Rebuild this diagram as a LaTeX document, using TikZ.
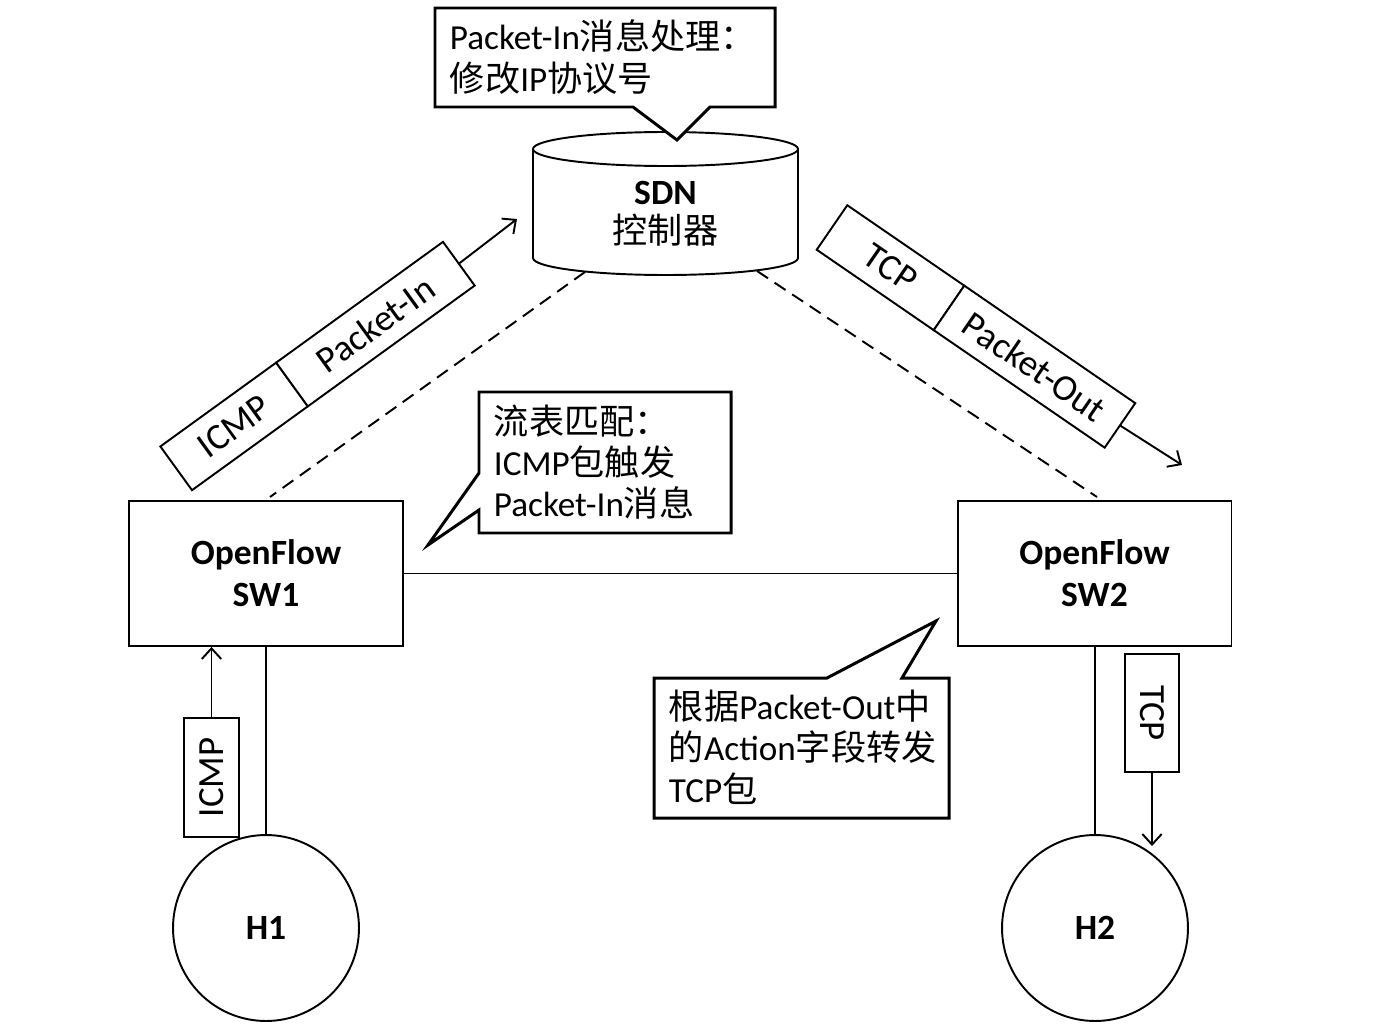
\documentclass[tikz,border=0pt]{standalone}
\usepackage{fontspec}
\setmainfont{Carlito}
\newfontfamily\cjk{Noto Sans CJK SC}
\usetikzlibrary{arrows.meta}
\begin{document}
\begin{tikzpicture}[x=0.02cm,y=-0.02cm,
  line width=1.1pt,
  every node/.style={font=\fontsize{20}{23.5}\selectfont, inner sep=0pt},
  swbox/.style={draw, fill=white, minimum width=5.48cm, minimum height=2.9cm, align=center, font=\bfseries\fontsize{20.2}{23.8}\selectfont},
  host/.style={draw, circle, minimum size=3.72cm, font=\bfseries\fontsize{20.2}{23}\selectfont},
  bar/.style={draw, fill=white, outer sep=0pt, minimum height=1.08cm, font=\fontsize{21}{24}\selectfont},
  vbar/.style={draw, fill=white, minimum height=1.1cm, font=\fontsize{21}{24}\selectfont},
  ctl/.style={dashed, line width=1.1pt, dash pattern=on 7.5pt off 4.5pt},
  msg/.style={-{Straight Barb[length=6pt,width=11pt]}, line width=1.1pt},
  callout/.style={draw, fill=white, line width=1.7pt, line join=miter},
  ctext/.style={anchor=west, align=left}]
\useasboundingbox[fill=white] (0,0) rectangle (1396,1024);

% SDN controller (cylinder)
\draw[fill=white] (533,149) -- (533,258) arc[start angle=180, end angle=0, x radius=132.5, y radius=17] -- (798,149);
\draw (665.5,149) ellipse[x radius=132.5, y radius=17];
\node[align=center] (sdn) at (665.5,214) {\textbf{\fontsize{20.2}{23}\selectfont SDN}\\[-1pt]{\cjk 控制器}};
\coordinate (sdnL) at (585,272);
\coordinate (sdnR) at (757,271);

% switches
\node[swbox] (sw1) at (266,573.5) {OpenFlow\\SW1};
\node[swbox] (sw2) at (1094.5,573.5) {OpenFlow\\SW2};
\coordinate (sw1top) at (270,497);
\coordinate (sw2top) at (1097,497);

% hosts
\node[host] (h1) at (266,928) {H1};
\node[host] (h2) at (1095,928) {H2};

% links
\draw (sw1.east) -- (sw2.west);
\draw (sw1.south) -- (h1.north);
\draw (sw2.south -| h2.north) -- (h2.north);
\draw[ctl] (sdnL) -- (sw1top);
\draw[ctl] (sdnR) -- (sw2top);

% Packet-In message bar
\node[bar, rotate=35.9, minimum width=2.86cm] (icmp1) at (234.1,426.4) {ICMP};
\node[bar, rotate=35.9, minimum width=4.12cm, anchor=west] (pin) at (icmp1.east) {Packet-In};
\coordinate (pinend) at (517,219);
\draw[msg] (pin.east) -- (pinend);

% Packet-Out message bar
\node[bar, rotate=-34.5, minimum width=2.84cm] (tcp1) at (890.5,267.7) {TCP};
\node[bar, rotate=-34.5, minimum width=4.15cm, anchor=west] (pout) at (tcp1.east) {Packet-Out};
\coordinate (poutend) at (1182,465);
\draw[msg] (pout.east) -- (poutend);

% ICMP from H1 to SW1
\node[vbar, rotate=90, minimum width=2.38cm] (icmp2) at (211.5,777.5) {ICMP};
\draw[msg] (icmp2.east) -- (icmp2.east |- sw1.south);

% TCP from SW2 to H2
\node[vbar, rotate=-90, minimum width=2.36cm, minimum height=1.08cm] (tcp2) at (1152,713) {TCP};
\coordinate (tcpend) at (1152,846);
\draw[msg] (tcp2.east) -- (tcpend);

% callouts
\draw[callout] (435,8) -- (775,8) -- (775,107) -- (710,107) -- (677,140) -- (633,107) -- (435,107) -- cycle;
\node[ctext] (t1) at (449,57) {Packet-In{\cjk 消息处理：}\\{\cjk 修改}IP{\cjk 协议号}};

\draw[callout] (479,392) -- (731,392) -- (731,533) -- (479,533) -- (479,510) -- (428,545) -- (479,473) -- cycle;
\node[ctext] (t2) at (493,462) {{\cjk 流表匹配：}\\ICMP{\cjk 包触发}\\Packet-In{\cjk 消息}};

\draw[callout] (654,678) -- (827,678) -- (936,621) -- (902,678) -- (949,678) -- (949,818) -- (654,818) -- cycle;
\node[ctext] (t3) at (668,747) {{\cjk 根据}Packet-Out{\cjk 中}\\{\cjk 的}Action{\cjk 字段转发}\\TCP{\cjk 包}};
\end{tikzpicture}
\end{document}
